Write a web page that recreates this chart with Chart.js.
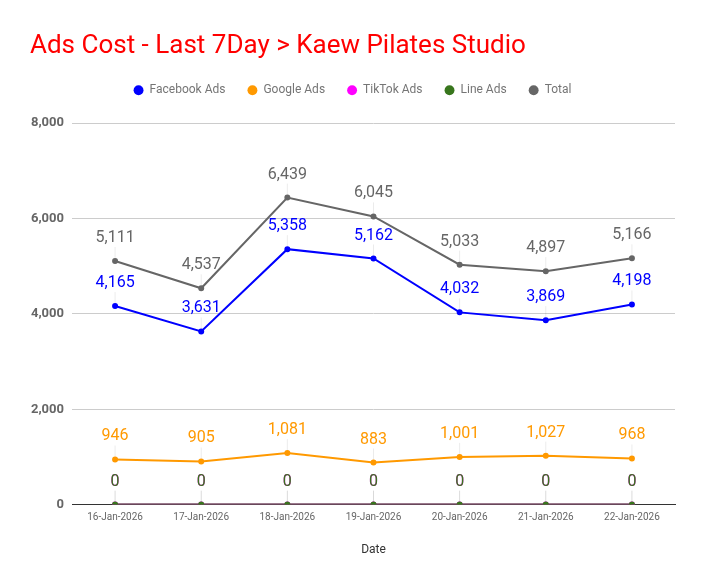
<!DOCTYPE html>
<html>
<head>
<meta charset="utf-8">
<script src="https://cdn.jsdelivr.net/npm/chart.js@4.4.1/dist/chart.umd.min.js"></script>
<style>
  body { margin: 0; background: #fff; }
  #wrap { width: 704px; height: 585px; }
</style>
</head>
<body>
<div id="wrap"><canvas id="line-chart" width="704" height="585"></canvas></div>
<script>
var ctx = document.getElementById('line-chart').getContext('2d');

// data
var dates = ['16-Jan-2026', '17-Jan-2026', '18-Jan-2026', '19-Jan-2026', '20-Jan-2026', '21-Jan-2026', '22-Jan-2026'];
var facebookAds = [4165, 3631, 5358, 5162, 4032, 3869, 4198];
var googleAds = [946, 905, 1081, 883, 1001, 1027, 968];
var tiktokAds = [0, 0, 0, 0, 0, 0, 0];
var lineAds = [0, 0, 0, 0, 0, 0, 0];
var totalCost = [5111, 4537, 6439, 6045, 5033, 4897, 5166];
var yTicks = [0, 2000, 4000, 6000, 8000];

Chart.defaults.font.family = 'Roboto, Arial, sans-serif';

function makeSet(label, data, color, order) {
    return {
        label: label,
        data: data,
        borderColor: color,
        backgroundColor: color,
        pointBackgroundColor: color,
        pointBorderColor: color,
        borderWidth: 2,
        pointRadius: 2,
        pointHoverRadius: 3,
        tension: 0,
        order: order
    };
}

// labels above each point with a small leader line
var pointLabels = {
    id: 'pointLabels',
    afterDatasetsDraw: function(chart) {
        var c = chart.ctx;
        c.save();
        chart.data.datasets.forEach(function(ds, i) {
            var meta = chart.getDatasetMeta(i);
            if (meta.hidden) return;
            meta.data.forEach(function(pt, j) {
                c.strokeStyle = 'rgba(0,0,0,0.08)';
                c.lineWidth = 1;
                c.beginPath();
                c.moveTo(pt.x, pt.y - 3);
                c.lineTo(pt.x, pt.y - 14);
                c.stroke();
                c.fillStyle = ds.borderColor;
                c.font = '16px Roboto, Arial, sans-serif';
                c.textAlign = 'center';
                c.textBaseline = 'middle';
                c.fillText(ds.data[j].toLocaleString('en-US'), pt.x, pt.y - 23);
            });
        });
        c.restore();
    }
};

// fixed legend height so the plot starts lower
var legendHeight = {
    id: 'legendHeight',
    beforeInit: function(chart) {
        var fit = chart.legend.fit;
        chart.legend.fit = function() {
            fit.bind(chart.legend)();
            this.height = 61;
        };
    }
};

var chart = new Chart(ctx, {
    type: 'line',
    data: {
        labels: dates,
        datasets: [
            makeSet('Facebook Ads', facebookAds, '#0000ff', 1),
            makeSet('Google Ads', googleAds, '#ff9900', 2),
            makeSet('TikTok Ads', tiktokAds, '#ff00ff', 3),
            makeSet('Line Ads', lineAds, '#38761d', 0),
            makeSet('Total', totalCost, '#666666', 4)
        ]
    },
    options: {
        responsive: false,
        animation: false,
        devicePixelRatio: 1,
        layout: {
            padding: { left: 30, right: 29, top: 31, bottom: 24 }
        },
        plugins: {
            title: {
                display: true,
                text: 'Ads Cost - Last 7Day > Kaew Pilates Studio',
                align: 'start',
                color: '#ff0000',
                font: { size: 26, weight: 'normal' },
                padding: { top: 0, bottom: 0 }
            },
            legend: {
                position: 'top',
                labels: {
                    usePointStyle: true,
                    pointStyle: 'circle',
                    boxWidth: 10,
                    boxHeight: 7,
                    color: '#757575',
                    font: { size: 12 },
                    padding: 22,
                    sort: function(a, b) { return a.datasetIndex - b.datasetIndex; },
                    generateLabels: function(chart) {
                        var items = Chart.defaults.plugins.legend.labels.generateLabels(chart);
                        items.forEach(function(it) { it.lineWidth = 0; });
                        return items;
                    }
                }
            },
            tooltip: { enabled: false }
        },
        scales: {
            x: {
                offset: true,
                grid: { display: false, drawTicks: false },
                border: { display: true, color: '#333333' },
                ticks: { color: '#666666', font: { size: 10 }, maxRotation: 0, padding: 7 },
                title: { display: true, text: 'Date', color: '#333333', font: { size: 12 }, padding: { top: 12 } }
            },
            y: {
                min: 0,
                max: 8000,
                afterBuildTicks: function(axis) {
                    axis.ticks = yTicks.map(function(v) { return { value: v }; });
                },
                afterFit: function(axis) { axis.width = 42; },
                grid: {
                    color: function(c) { return c.tick && c.tick.value === 0 ? '#333333' : '#cccccc'; },
                    drawTicks: false
                },
                border: { display: false },
                ticks: { color: '#666666', font: { size: 13, weight: 'bold' }, padding: 8 }
            }
        }
    },
    plugins: [pointLabels, legendHeight]
});
</script>
</body>
</html>
